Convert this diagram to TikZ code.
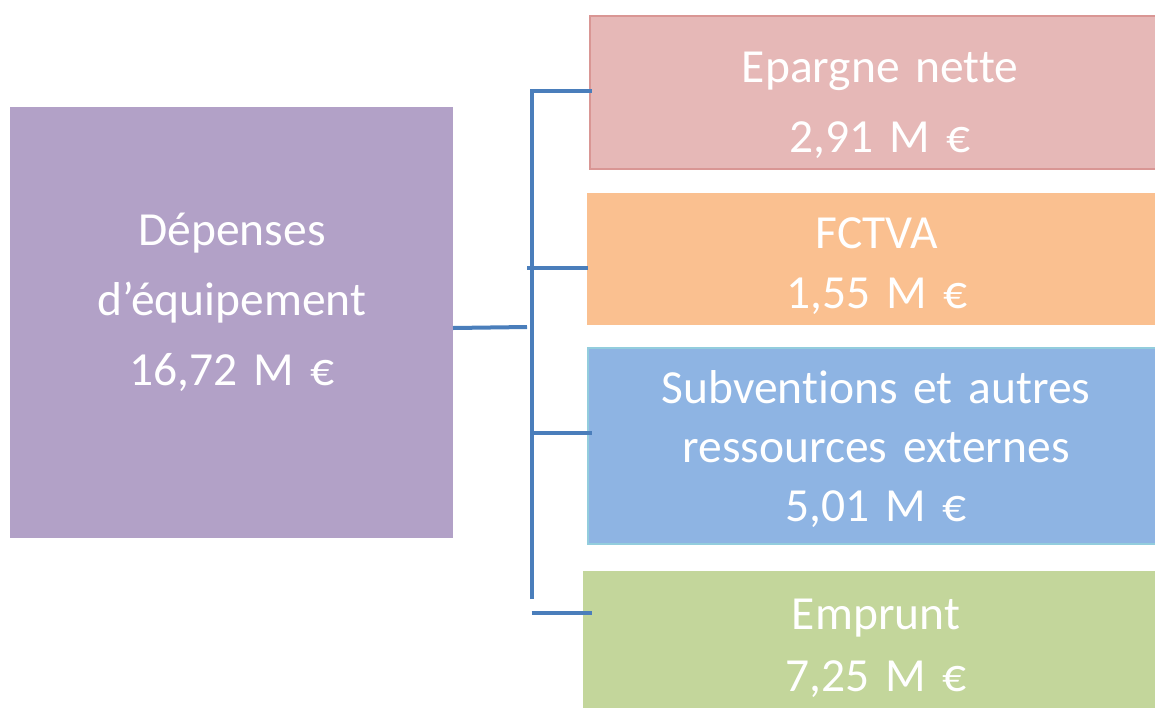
\documentclass[tikz,border=0pt]{standalone}
\usepackage{fontspec}
\setmainfont{Carlito}[Ligatures=NoCommon]
\definecolor{purpleBox}{HTML}{B2A1C7}
\definecolor{pinkBox}{HTML}{E6B8B7}
\definecolor{pinkEdge}{HTML}{D99694}
\definecolor{orangeBox}{HTML}{FAC090}
\definecolor{blueBox}{HTML}{8EB4E3}
\definecolor{blueEdge}{HTML}{93CDDD}
\definecolor{greenBox}{HTML}{C3D69B}
\definecolor{linkBlue}{HTML}{4A7EBB}
\newcommand\boxfont[1]{\fontsize{47.5}{#1}\selectfont\spaceskip=8pt\relax}
\begin{document}
\begin{tikzpicture}[x=1pt,y=-1pt,
  box/.style={rectangle, inner sep=0pt, outer sep=0pt, anchor=north west},
  boxtext/.style={text=white, anchor=base, align=center, inner sep=0pt,
    text width=#1, font=\boxfont{70}},
  link/.style={draw=linkBlue, line width=4pt},
]
\useasboundingbox (0,0) rectangle (1155,707);
\clip (0,0) rectangle (1155,707);

% boxes
\node[box, fill=purpleBox, minimum width=443, minimum height=431] (dep) at (10,107) {};
\node[box, fill=pinkBox, draw=pinkEdge, line width=2pt, minimum width=580, minimum height=153] (epargne) at (590,16) {};
\node[box, fill=orangeBox, minimum width=580, minimum height=132.5] (fctva) at (586.5,192.5) {};
\node[box, fill=blueBox, draw=blueEdge, line width=2pt, minimum width=580, minimum height=196] (subv) at (587.5,347.5) {};
\node[box, fill=greenBox, minimum width=590, minimum height=145] (emprunt) at (583,571) {};

% captions
\node[boxtext=440pt] (depT) at (232,245) {Dépenses\\d’équipement\\16,72 M €};
\node[boxtext=560pt] (epargneT) at (880,82.5) {Epargne nette\\2,91 M €};
\node[boxtext=560pt, font=\boxfont{60}] (fctvaT) at (877,248) {FCTVA\\1,55 M €};
\node[boxtext=560pt, font=\boxfont{59}] (subvT) at (876,403) {Subventions et autres\\ressources externes\\5,01 M €};
\node[boxtext=560pt, font=\boxfont{62}] (empruntT) at (876,629) {Emprunt\\7,25 M €};

% connector bus
\coordinate (busTop) at (531.5,90.5);
\coordinate (busEnd) at (531.5,599);
\coordinate (busMid) at (527,327);
\coordinate (tapF) at (527,268);
\coordinate (tapS) at (531.5,432.5);
\coordinate (tapE) at (531.5,613);

\draw[link] (busEnd) -- (busTop) -- (epargne.west |- busTop) -- ++(2,0);
\draw[link] (dep.east |- 0,328) -- (busMid);
\draw[link] (tapF) -- (fctva.west |- tapF) -- ++(1.5,0);
\draw[link] (tapS) -- (subv.west |- tapS) -- ++(4,0);
\draw[link] (tapE) -- (emprunt.west |- tapE) -- ++(9,0);
\end{tikzpicture}
\end{document}
